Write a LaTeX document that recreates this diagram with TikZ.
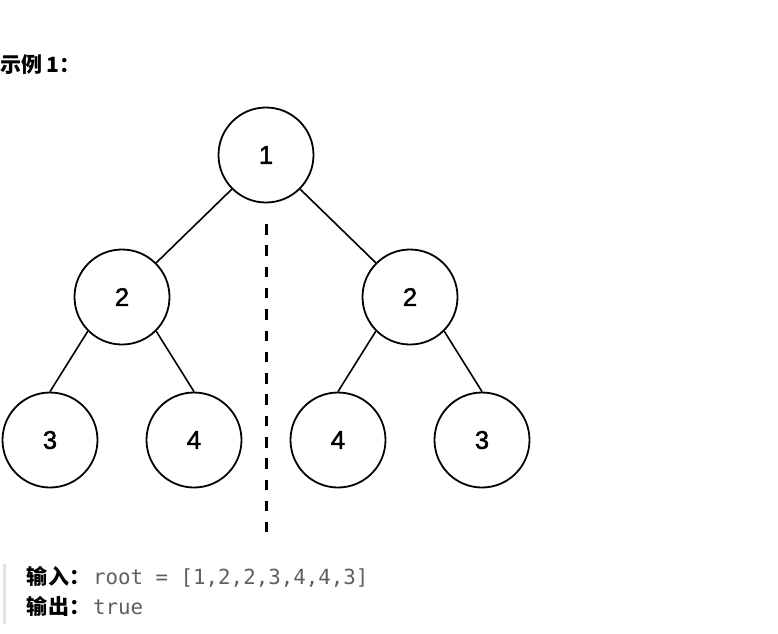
\documentclass[tikz,border=0pt]{standalone}
\usepackage{fontspec}
\setmainfont{Liberation Sans}
\newfontfamily\numf{Liberation Sans}[FakeBold=2]
\newfontfamily\cjk{Noto Sans CJK SC}
\newfontfamily\monof{DejaVu Sans Mono}
\definecolor{codegray}{HTML}{5F5F5F}
\definecolor{bargray}{HTML}{E3E3E3}
\begin{document}
\begin{tikzpicture}[x=1pt,y=-1pt,
  tnode/.style={circle,draw=black,line width=1.8pt,minimum size=95pt,inner sep=0pt,font=\numf\fontsize{25.5}{25.5}\selectfont},
  tedge/.style={draw=black,line width=1.6pt},
  lbl/.style={anchor=base west,inner sep=0pt,outer sep=0pt},
  cjkb/.style={font=\cjk\bfseries\fontsize{21}{21}\selectfont},
  code/.style={font=\monof\fontsize{20.8}{20.8}\selectfont,text=codegray}]
\useasboundingbox (0,0) rectangle (778,633);
\node[tnode] (r) at (266,155) {1};
\node[tnode] (l) at (122,297) {2};
\node[tnode] (rr) at (410,297) {2};
\node[tnode] (ll) at (50,440) {3};
\node[tnode] (lr) at (194,440) {4};
\node[tnode] (rl) at (338,440) {4};
\node[tnode] (rrr) at (482,440) {3};
\draw[tedge] (r.south west) -- (l.north east);
\draw[tedge] (r.south east) -- (rr.north west);
\draw[tedge] (l.south west) -- (ll.north);
\draw[tedge] (l.south east) -- (lr.north);
\draw[tedge] (rr.south west) -- (rl.north);
\draw[tedge] (rr.south east) -- (rrr.north);
\coordinate (dtop) at (266.5,224);
\coordinate (dbot) at (266.5,532);
\draw[line width=3pt,dash pattern=on 10.5pt off 10.8pt] (dtop) -- (dbot);
\node[lbl,cjkb] (title) at (0,72) {示例 1：};
\coordinate (btop) at (4,564);
\coordinate (bbot) at (4,624);
\draw[bargray,line width=3pt] (btop) -- (bbot);
\node[lbl,cjkb] (inl) at (27,584) {输入：};
\node[lbl,code] (inv) at (93,584) {root = [1,2,2,3,4,4,3]};
\node[lbl,cjkb] (outl) at (27,614) {输出：};
\node[lbl,code] (outv) at (93,614) {true};
\end{tikzpicture}
\end{document}
